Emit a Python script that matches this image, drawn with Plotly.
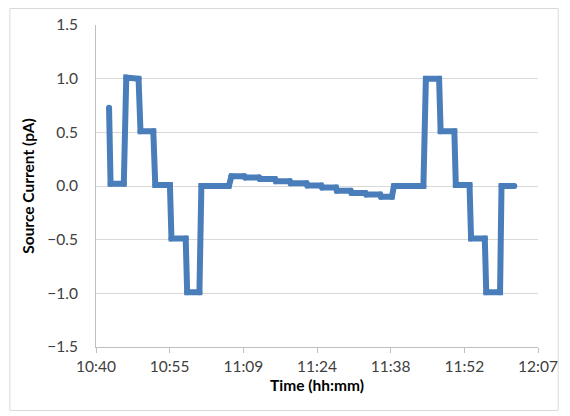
import plotly.graph_objects as go
import pandas as pd

# Data (time of day, source current in pA)
times = [
    "10:43:21", "10:43:39", "10:46:14", "10:46:43", "10:49:07", "10:49:30",
    "10:52:00", "10:52:23", "10:55:15", "10:55:33", "10:58:20", "10:58:37",
    "11:01:01", "11:01:24", "11:06:47", "11:07:16", "11:09:47", "11:09:57",
    "11:12:40", "11:12:50", "11:15:48", "11:15:58", "11:18:41", "11:18:51",
    "11:21:57", "11:22:07", "11:24:50", "11:25:00", "11:27:43", "11:27:53",
    "11:30:35", "11:30:45", "11:33:28", "11:33:38", "11:36:21", "11:36:31",
    "11:38:39", "11:39:02", "11:44:48", "11:45:17", "11:47:52", "11:48:10",
    "11:50:51", "11:51:08", "11:53:49", "11:54:07", "11:56:48", "11:57:05",
    "11:59:47", "12:00:04", "12:02:34",
]
current = [
    0.73, 0.02, 0.02, 1.01, 1.00, 0.51,
    0.51, 0.01, 0.01, -0.49, -0.49, -0.99,
    -0.99, 0.00, 0.00, 0.09, 0.09, 0.08,
    0.08, 0.065, 0.065, 0.045, 0.045, 0.025,
    0.025, 0.005, 0.005, -0.015, -0.015, -0.045,
    -0.045, -0.065, -0.065, -0.08, -0.08, -0.10,
    -0.10, 0.00, 0.00, 1.00, 1.00, 0.51,
    0.51, 0.01, 0.01, -0.49, -0.49, -0.99,
    -0.99, 0.00, 0.00,
]
x_range = ["10:40:48", "12:07:12"]
y_ticks = [-1.5, -1.0, -0.5, 0.0, 0.5, 1.0, 1.5]
grid_vals = [-1.0, -0.5, 0.0, 0.5, 1.0]

day = "2014-01-01 "
x = pd.to_datetime([day + t for t in times])

fig = go.Figure()
fig.add_trace(go.Scatter(
    x=x, y=current, mode="lines+markers",
    line=dict(color="#4a7ebb", width=6),
    marker=dict(color="#4a7ebb", size=6, symbol="circle", line=dict(width=0)),
    showlegend=False,
))

font_family = "Lato, 'Open Sans', sans-serif"
fig.update_layout(
    width=570, height=416,
    margin=dict(l=96, r=25, t=25, b=69),
    paper_bgcolor="white", plot_bgcolor="white",
    font=dict(family=font_family, size=15, color="#404040"),
    xaxis=dict(
        type="date",
        range=[day + x_range[0], day + x_range[1]],
        tick0=day + x_range[0],
        dtick=864000,
        tickformat="%H:%M",
        showgrid=False,
        showline=True, linecolor="#bfbfbf", linewidth=1,
        ticks="outside", ticklen=5, tickcolor="#bfbfbf",
        tickfont=dict(size=15.5, color="#404040"),
        title=dict(text="<b>Time (hh:mm)</b>", font=dict(size=15.5, color="#000000"), standoff=6),
        zeroline=False,
    ),
    yaxis=dict(
        range=[-1.5, 1.5],
        tickvals=y_ticks,
        tickformat=".1f",
        showgrid=False,
        minor=dict(tickvals=grid_vals, showgrid=True, gridcolor="#d9d9d9", gridwidth=1, ticks=""),
        showline=True, linecolor="#bfbfbf", linewidth=1,
        ticks="", ticklabelstandoff=14,
        tickfont=dict(size=15.5, color="#404040"),
        title=dict(text="<b>Source Current (pA)</b>", font=dict(size=15.5, color="#000000"), standoff=8),
        zeroline=False,
    ),
    shapes=[dict(
        type="rect", xref="paper", yref="paper",
        x0=(8.5 - 96) / 449, x1=(565.5 - 96) / 449,
        y0=(347 - 410.5) / 322, y1=(347 - 8.5) / 322,
        line=dict(color="#d9d9d9", width=1), fillcolor="rgba(0,0,0,0)",
        layer="below",
    )],
)

fig.write_html("out.html")
